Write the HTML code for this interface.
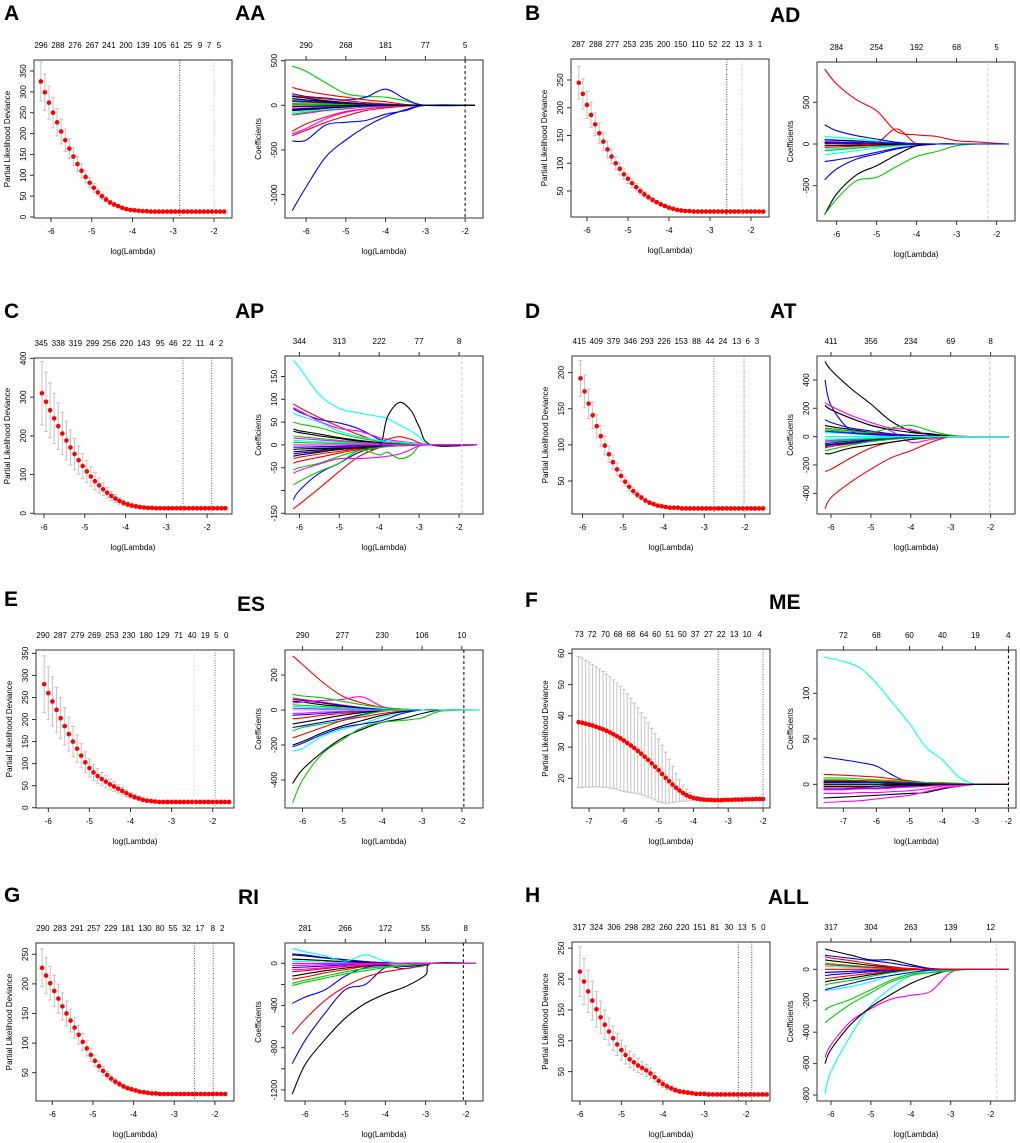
<!DOCTYPE html>
<html><head><meta charset="utf-8"><style>
html,body{margin:0;padding:0;background:#fff;}
svg{display:block;font-family:"Liberation Sans",Arial,sans-serif;}
</style></head><body>
<svg id="fig" width="1020" height="1143" viewBox="0 0 1020 1143" xmlns="http://www.w3.org/2000/svg">
<rect x="0" y="0" width="1020" height="1143" fill="#fff"/>
</svg>
<script>
// ---------- CV curve data (mean partial likelihood deviance, step 0.1 in log(lambda)) ----------
const A_mean=[325,299,274,250,227,205,184,164,145,127,111,96,82,70,59,50,42,35,30,26,22,19,17,16,15,14,14,13,13,13,13,13,13,13,13,13,13,13,13,13,13,13,13,13,13,13];
const B_mean=[245,225,205,187,170,154,139,125,112,100,90,80,72,64,57,50,44,39,34,30,26,23,20,18,16,15,14,14,13,13,13,13,13,13,13,13,13,13,13,13,13,13,13,13,13,13];
const C_mean=[310,288,266,245,225,206,188,170,153,137,122,108,95,83,72,62,53,45,38,32,27,23,20,18,16,15,14,14,13,13,13,13,13,13,13,13,13,13,13,13,13,13,13,13,13,13];
const D_mean=[192,174,157,141,126,112,99,87,76,66,57,49,42,36,31,27,23,20,18,16,15,14,13,13,13,12,12,12,12,12,12,12,12,12,12,12,12,12,12,12,12,12,12,12,12,12];
const E_mean=[280,260,241,222,203,185,167,150,134,118,103,90,80,72,65,59,53,48,43,38,33,28,24,21,18,16,15,14,13,13,13,13,13,13,13,13,13,13,13,13,13,13,13,13,13,13];
const F_mean=[38.0,37.8,37.5,37.2,36.9,36.5,36.1,35.7,35.2,34.7,34.1,33.5,32.8,32.1,31.3,30.5,29.7,28.8,27.9,26.9,25.9,24.8,23.7,22.6,21.4,20.2,19.1,18.0,17.0,16.1,15.3,14.6,14.1,13.7,13.5,13.3,13.2,13.1,13.1,13.0,13.0,13.0,13.1,13.1,13.1,13.2,13.2,13.2,13.3,13.3,13.3,13.4,13.4,13.4];
const F_se=[21,20.7,20.3,20,19.6,19.2,18.9,18.5,18.1,17.8,17.4,17.0,16.7,16.3,15.7,15.1,14.4,13.8,13.1,12.5,11.9,11.2,10.6,10.0,9.2,8.2,7.0,5.8,4.6,3.5,2.6,1.9,1.3,0.9,0.7,0.6,0.5,0.4,0.4,0.4,0.4,0.4,0.4,0.4,0.4,0.4,0.4,0.4,0.4,0.4,0.4,0.4,0.4,0.4];
const G_mean=[227,214,201,188,175,162,150,138,126,114,102,91,80,70,61,53,46,40,35,31,27,24,22,20,18,17,16,15,15,14,14,14,14,14,14,14,14,14,14,14,14,14,14,14,14,14];
const H_mean=[212,196,180,165,151,138,126,115,104,94,85,77,70,65,60,56,52,47,41,35,30,26,23,20,18,17,16,15,14,14,14,13,13,13,13,13,13,13,13,13,13,13,13,13,13,13];
// top axis labels (number of nonzero coefficients) and their log(lambda) positions
const A_top=["296","288","276","267","241","200","139","105","61","25","9","7","5"];
const A_topAt=[-6.245,-5.83,-5.41,-4.99,-4.58,-4.16,-3.74,-3.33,-2.96,-2.64,-2.34,-2.12,-1.88];
const B_top=["287","288","277","253","235","200","150","110","52","22","13","3","1"];
const B_topAt=[-6.21,-5.79,-5.38,-4.96,-4.55,-4.13,-3.72,-3.30,-2.93,-2.61,-2.28,-2.01,-1.78];
const C_top=["345","338","319","299","256","220","143","95","46","22","11","4","2"];
const C_topAt=[-6.07,-5.65,-5.23,-4.81,-4.40,-3.98,-3.56,-3.15,-2.83,-2.50,-2.17,-1.89,-1.66];
const D_top=["415","409","379","346","293","226","153","88","44","24","13","6","3"];
const D_topAt=[-6.08,-5.66,-5.24,-4.82,-4.41,-3.99,-3.57,-3.19,-2.86,-2.54,-2.20,-1.93,-1.70];
const E_top=["290","287","279","269","253","230","180","129","71","40","19","5","0"];
const E_topAt=[-6.13,-5.71,-5.29,-4.88,-4.45,-4.04,-3.62,-3.21,-2.83,-2.50,-2.18,-1.91,-1.67];
const F_top=["73","72","70","68","68","64","60","51","50","37","27","22","13","10","4"];
const F_topAt=[-7.28,-6.91,-6.53,-6.17,-5.80,-5.42,-5.06,-4.68,-4.32,-3.95,-3.57,-3.20,-2.83,-2.46,-2.09];
const G_top=["290","283","291","257","229","181","130","80","55","32","17","8","2"];
const G_topAt=[-6.23,-5.81,-5.39,-4.98,-4.56,-4.14,-3.72,-3.35,-3.03,-2.70,-2.37,-2.05,-1.82];
const H_top=["317","324","306","298","282","260","220","151","81","30","13","5","0"];
const H_topAt=[-6.01,-5.60,-5.18,-4.76,-4.35,-3.93,-3.52,-3.11,-2.75,-2.41,-2.09,-1.81,-1.58];

// ---------- coefficient path data ----------
const AA_grid=[-6.35,-6,-5.5,-5,-4.5,-4,-3.5,-3,-1.75];
const AA_top=["290","268","181","77","5"];
const AA_lines=[
 ["#0000ff",-1180,-915,-575,-389,-240,-128,-50,0],
 ["#00cd00",440,380,250,130,100,90,50,0],
 ["#0000ff",130,100,80,60,90,180,70,0],
 ["#0000ff",-400,-390,-220,-190,-170,-100,-60,0],
 ["#ff0000",200,160,120,90,60,40,10,0],
 ["#ff0000",-290,-210,-130,-70,-40,-20,-5,0],
 ["#ff00ff",-320,-260,-150,-80,-40,-20,-5,0],
 ["#ff0000",-340,-280,-190,-120,-60,-30,-10,0],
 ["#ff0000",110,90,70,50,30,15,5,0],
 ["#ff00ff",-110,-90,-60,-40,-20,-10,-3,0],
 ["#0000ff",60,55,50,30,15,8,3,0],
 ["#000000",100,80,50,30,15,5],["#00cd00",-100,-80,-50,-30,-15,-5],["#00ffff",60,50,35,20,10,3],
 ["#000000",-60,-50,-35,-20,-10,-3],["#ff0000",40,35,25,15,8,2],["#0000ff",-40,-35,-25,-15,-8,-2],
 ["#00cd00",20,18,12,8,4,1],["#ff00ff",-20,-18,-12,-8,-4,-1],["#000000",75,60,40,25,10,3],
 ["#00ffff",-80,-65,-45,-25,-12,-4],["#00cd00",10,9,6,4,2],["#000000",-10,-9,-6,-4,-2],
 ["#0000ff",50,45,30,18,9,2],["#000000",-50,-45,-30,-18,-9,-2]
];
const AD_grid=[-6.3,-6,-5.5,-5,-4.5,-4,-3.5,-3,-2.5,-1.7];
const AD_top=["284","254","192","68","5"];
const AD_lines=[
 ["#00ffff",90,80,60,40,20,5],["#00ffff",-130,-110,-80,-50,-25,-5],["#00ffff",60,50,40,25,12,3],
 ["#00ffff",-60,-55,-40,-30,-15,-3],["#000000",50,45,35,20,10,2],["#00cd00",-80,-70,-50,-30,-15,-4],
 ["#ff00ff",30,28,20,12,6,1],["#ff0000",-40,-35,-25,-15,-8,-2],["#0000ff",20,18,14,8,4,1],
 ["#000000",-20,-18,-14,-8,-4,-1],["#ff0000",900,720,530,400,150,110,90,40,25,0],
 ["#ff0000",0,0,0,10,180,0],["#0000ff",230,160,100,60,20,0],["#0000ff",-430,-300,-180,-120,-60,-20],
 ["#0000ff",-210,-190,-150,-100,-50,-20],["#000000",-850,-600,-370,-260,-130,-20],
 ["#00cd00",-850,-660,-440,-400,-270,-150,-90,-20],["#0000ff",10,8,6,4,2,1,0,0,0,0]
];
const AP_grid=[-6.15,-6,-5.5,-5,-4.5,-4,-3.8,-3.5,-3.2,-3,-2.7,-1.55];
const AP_top=["344","313","222","77","8"];
const AP_lines=[
 ["#000000",30,27,20,14,8,4,3,2,1],["#ff0000",-30,-27,-20,-14,-8,-4,-3,-2,-1],["#00cd00",20,18,14,10,6,3,2,1],
 ["#0000ff",-20,-18,-14,-10,-6,-3,-2,-1],["#00ffff",10,9,7,5,3,2,1,1],["#ff00ff",-10,-9,-7,-5,-3,-2,-1,-1],
 ["#000000",35,31,24,16,10,5,3,2,1],["#ff0000",-40,-36,-27,-18,-10,-5,-3,-2,-1],["#00cd00",5,5,4,3,2,1,1],
 ["#0000ff",-5,-5,-4,-3,-2,-1,-1],["#ff00ff",15,14,11,8,5,3,2,1],["#000000",-15,-14,-11,-8,-5,-3,-2,-1],
 ["#000000",-25,-22,-16,-10,-6,-3,-2,-1],
 ["#00ffff",185,170,110,80,70,62,58,44,30,18,0,0],
 ["#000000",-10,-9,-8,-7,-6,-4,60,93,75,40,0,0],
 ["#ff0000",90,82,60,40,22,8,12,18,12,5,0,0],
 ["#0000ff",80,72,56,48,35,12,8,5,3,2,0,0],
 ["#ff00ff",82,75,52,36,30,16,12,8,5,3,0,0],
 ["#ff0000",-140,-130,-95,-58,-25,-6,-3,-1,0,0,0,0],
 ["#0000ff",-120,-100,-62,-40,-16,-4,-2,-1,0,0,0,0],
 ["#00cd00",-88,-80,-58,-40,-12,-22,-16,-30,-22,-3,0,0],
 ["#00cd00",-55,-50,-40,-25,-12,-6,-4,-2,-1,0,0,0],
 ["#ff00ff",-62,-56,-42,-30,-30,-27,-25,-20,-10,-2,0,0],
 ["#00cd00",50,46,38,25,15,8,6,4,2,1,0,0],
 ["#00ffff",70,64,50,30,18,10,8,6,4,2,0,0],
 ["#ff00ff",0,0,0,0,0,0,0,0,0,0,0,0]
];
const AT_grid=[-6.15,-6,-5.5,-5,-4.5,-4,-3.5,-3,-2.5,-1.55];
const AT_top=["411","356","234","69","8"];
const AT_lines=[
 ["#000000",80,70,50,30,15,5],["#ff0000",-80,-70,-50,-30,-15,-5],["#00cd00",50,45,30,20,10,3],
 ["#0000ff",-50,-45,-30,-20,-10,-3],["#00ffff",30,27,20,12,6,2],["#ff00ff",-30,-27,-20,-12,-6,-2],
 ["#000000",-60,-55,-40,-25,-12,-4],["#00cd00",-40,-35,-25,-15,-8,-2],["#0000ff",40,35,25,15,8,2],
 ["#ff0000",60,55,40,28,14,4],["#00ffff",-20,-18,-14,-8,-4,-1],["#0000ff",-70,-60,-45,-28,-14,-4],
 ["#000000",530,470,340,230,110,40,20,5,0,0],
 ["#0000ff",400,220,40,20,10,5,0,0,0,0],
 ["#ff00ff",240,215,150,100,60,50,10,0,0,0],
 ["#ff00ff",220,190,130,80,40,-40,-20,0,0,0],
 ["#000000",220,190,130,80,50,30,15,5,0,0],
 ["#0000ff",120,100,60,40,20,10,5,0,0,0],
 ["#00cd00",60,55,40,30,60,80,40,10,0,0],
 ["#ff0000",-510,-430,-320,-230,-150,-100,-40,0,0,0],
 ["#ff0000",-245,-230,-150,-80,-40,-20,-10,0,0,0],
 ["#000000",-120,-118,-80,-60,-40,-20,-5,0,0,0],
 ["#00cd00",-100,-90,-60,-35,-20,-10,-5,0,0,0],
 ["#00ffff",0,0,0,0,0,0,0,0,0,0]
];
const ES_grid=[-6.25,-6,-5.5,-5,-4.5,-4,-3.5,-3,-2.5,-1.55];
const ES_top=["290","277","230","106","10"];
const ES_lines=[
 ["#000000",50,45,30,20,10,3],["#ff0000",-50,-45,-30,-20,-10,-3],["#00cd00",30,27,20,12,6,2],
 ["#0000ff",-30,-27,-20,-12,-6,-2],["#00ffff",20,18,12,8,4,1],["#ff00ff",-20,-18,-12,-8,-4,-1],
 ["#000000",-80,-70,-50,-30,-15,-4],["#ff0000",70,60,45,28,14,4],["#0000ff",-100,-90,-70,-50,-25,-6],
 ["#00cd00",-120,-100,-80,-60,-30,-8],["#ff00ff",10,9,6,4,2],["#0000ff",60,55,40,25,12,3],
 ["#ff0000",310,260,160,80,40,15,5,0,0,0],
 ["#ff00ff",40,45,55,60,75,20,5,0,0,0],
 ["#00cd00",90,80,70,50,30,15,5,0,0,0],
 ["#000000",-420,-340,-240,-160,-110,-70,-50,-20,0,0],
 ["#00cd00",-530,-400,-250,-170,-100,-70,-60,-45,-5,0],
 ["#00ffff",-235,-220,-150,-110,-80,-40,-20,0,0,0],
 ["#0000ff",-210,-190,-140,-100,-80,-60,-20,0,0,0],
 ["#ff0000",-160,-140,-100,-60,-40,-20,-5,0,0,0],
 ["#000000",-200,-180,-130,-90,-60,-30,-10,0,0,0],
 ["#00ffff",0,0,0,0,0,0,0,0,0,0]
];
const ME_grid=[-7.6,-7,-6.5,-6,-5.5,-5,-4.5,-4,-3.5,-3,-2.5,-2];
const ME_top=["72","68","60","40","19","4"];
const ME_lines=[
 ["#000000",3,3,3,2,2,2,1,1],["#ff0000",-3,-3,-3,-2,-2,-2,-1,-1],["#00cd00",5,5,4,4,3,2,1,1],
 ["#0000ff",-5,-5,-4,-4,-3,-2,-1,-1],["#00ffff",1,1,1,1,1,1],["#ff00ff",-6,-6,-5,-5,-4,-3,-2,-1],
 ["#000000",-2,-2,-2,-2,-1,-1,-1],["#ff0000",4,4,4,3,3,2,1],["#0000ff",2,2,2,2,1,1,1],
 ["#00ffff",140,135,128,111,89,67,41,27,8,0,0,0],
 ["#0000ff",30,27,24,20,10,2,1,0,0,0,0,0],
 ["#ff0000",11,10,9,8,6,4,2,1,0,0,0,0],
 ["#00cd00",7,7,6,5,4,3,2,2,1,0,0,0],
 ["#000000",-15,-14,-13,-12,-11,-10,-9,-5,-2,0,0,0],
 ["#ff00ff",-20,-19,-18,-16,-14,-12,-8,-4,-2,0,0,0],
 ["#ff00ff",-10,-10,-9,-9,-8,-7,-5,-2,-1,0,0,0],
 ["#000000",0,0,0,0,0,0,0,0,0,0,0,0]
];
const RI_grid=[-6.32,-6,-5.5,-5,-4.5,-4,-3.5,-3,-2.85,-1.75];
const RI_top=["281","266","172","55","8"];
const RI_lines=[
 ["#000000",80,70,50,30,15,5],["#ff0000",-80,-70,-50,-30,-15,-5],["#00cd00",40,35,25,15,8,2],
 ["#0000ff",-40,-35,-25,-15,-8,-2],["#00ffff",20,18,12,8,4,1],["#ff00ff",-20,-18,-12,-8,-4,-1],
 ["#000000",-120,-100,-70,-45,-25,-8],["#ff00ff",-60,-55,-40,-25,-12,-4],["#0000ff",90,80,55,35,18,5],
 ["#ff0000",-150,-130,-90,-60,-30,-10],["#000000",40,36,26,16,8,2],
 ["#000000",-1240,-960,-720,-520,-380,-290,-220,-110,0,0],
 ["#0000ff",-950,-730,-470,-250,-200,-40,-50,-10,0,0],
 ["#ff0000",-670,-530,-350,-220,-130,-80,-50,-20,0,0],
 ["#0000ff",-380,-320,-250,-120,-40,-20,-30,-10,0,0],
 ["#00ffff",140,110,70,20,80,20,0,0,0,0],
 ["#00cd00",-210,-180,-140,-100,-70,-40,-20,-5,0,0],
 ["#00cd00",-190,-160,-120,-80,-50,-30,-15,-5,0,0],
 ["#ff00ff",0,0,0,0,0,0,0,0,0,0]
];
const ALL_grid=[-6.15,-6,-5.5,-5,-4.5,-4,-3.5,-3,-2.5,-1.55];
const ALL_top=["317","304","263","139","12"];
const ALL_lines=[
 ["#000000",60,55,40,25,12,4],["#ff0000",-60,-55,-40,-25,-12,-4],["#00cd00",40,35,25,15,8,2],
 ["#0000ff",-40,-35,-25,-15,-8,-2],["#00ffff",20,18,12,8,4,1],["#ff00ff",-20,-18,-12,-8,-4,-1],
 ["#ff0000",80,72,55,35,18,5],["#000000",-80,-72,-55,-35,-18,-5],["#00cd00",-100,-90,-70,-45,-22,-6],
 ["#ff0000",30,28,20,12,6,2],["#0000ff",-20,-18,-14,-8,-4,-1],
 ["#00ffff",-790,-650,-420,-230,-120,-40,-20,-5,0,0],
 ["#ff00ff",-560,-480,-330,-250,-190,-165,-140,-20,0,0],
 ["#000000",-600,-510,-350,-240,-160,-90,-40,-5,0,0],
 ["#00cd00",-340,-310,-220,-150,-80,-40,-20,-5,0,0],
 ["#00cd00",-260,-235,-190,-130,-70,-30,-20,-10,0,0],
 ["#000000",130,120,90,60,60,30,5,0,0,0],
 ["#0000ff",90,85,70,55,40,20,5,0,0,0],
 ["#00ffff",-135,-130,-110,-80,-40,-20,-10,0,0,0],
 ["#0000ff",-130,-120,-90,-60,-40,-20,-5,0,0,0],
 ["#ff0000",0,0,0,0,0,0,0,0,0,0]
];
</script>
<script>
const NS="http://www.w3.org/2000/svg";
const svg=document.getElementById('fig');
const FS=8;
function mk(tag,attrs,parent){const e=document.createElementNS(NS,tag);for(const k in attrs)e.setAttribute(k,attrs[k]);(parent||svg).appendChild(e);return e;}
function txt(s,x,y,size,parent,anchor,rot,weight){const t=mk('text',{x:x,y:y,'font-size':size,'text-anchor':anchor||'middle',fill:'#000'},parent);if(weight)t.setAttribute('font-weight',weight);if(rot)t.setAttribute('transform','rotate(-90 '+x+' '+y+')');t.textContent=s;return t;}
function smooth(pts){let d='M'+pts[0][0].toFixed(1)+','+pts[0][1].toFixed(1);for(let i=0;i<pts.length-1;i++){const p0=pts[i-1]||pts[i],p1=pts[i],p2=pts[i+1],p3=pts[i+2]||p2;const c1=[p1[0]+(p2[0]-p0[0])/6,p1[1]+(p2[1]-p0[1])/6],c2=[p2[0]-(p3[0]-p1[0])/6,p2[1]-(p3[1]-p1[1])/6];d+=' C'+c1[0].toFixed(1)+','+c1[1].toFixed(1)+' '+c2[0].toFixed(1)+','+c2[1].toFixed(1)+' '+p2[0].toFixed(1)+','+p2[1].toFixed(1);}return d;}

function axes(g,P,sx,sy,isCoef,ylab){
  const [x0,y0,x1,y1]=P.box;
  const fr=mk('rect',{x:x0,y:y0,width:x1-x0,height:y1-y0,fill:'none',stroke:'#333','stroke-width':1},g);
  
  const xa=mk('g',{},g);
  mk('line',{x1:sx(P.xticks[0]),x2:sx(P.xticks[P.xticks.length-1]),y1:y1,y2:y1,stroke:'#333'},xa);
  P.xticks.forEach(v=>{mk('line',{x1:sx(v),x2:sx(v),y1:y1,y2:y1+4,stroke:'#333'},xa);txt(String(v),sx(v),y1+16,FS,xa);});
  const xt=txt('log(Lambda)',(x0+x1)/2,y1+36,FS,g);
  const ya=mk('g',{},g);
  mk('line',{x1:x0,x2:x0,y1:sy(P.yticks[0]),y2:sy(P.yticks[P.yticks.length-1]),stroke:'#333'},ya);
  P.yticks.forEach((v,i)=>{mk('line',{x1:x0-4,x2:x0,y1:sy(v),y2:sy(v),stroke:'#333'},ya);const lab=P.ylabels?P.ylabels[i]:String(v);if(lab)txt(lab,x0-8,sy(v),FS,ya,'middle',true);});
  const yt=txt(ylab,x0-24,(y0+y1)/2,FS,g,'middle',true);
  const ta=mk('g',{},g);
  P.topAt.forEach((v,i)=>{if(isCoef){mk('line',{x1:sx(v),x2:sx(v),y1:y0,y2:y0-4,stroke:'#333'},ta);}txt(P.top[i],sx(v),y0-12,FS,ta);});
  if(isCoef) mk('line',{x1:sx(P.topAt[0]),x2:sx(P.topAt[P.topAt.length-1]),y1:y0,y2:y0,stroke:'#333'},ta);
}
function scales(P){const [x0,y0,x1,y1]=P.box;return [v=>x0+(v-P.xlim[0])/(P.xlim[1]-P.xlim[0])*(x1-x0), v=>y1-(v-P.ylim[0])/(P.ylim[1]-P.ylim[0])*(y1-y0)];}
function letter(s,x,y,name){const t=txt(s,x,y,21,svg,'start',false,'bold');}

function drawCV(P){
  const g=mk('g',{});
  const [sx,sy]=scales(P);
  axes(g,P,sx,sy,false,'Partial Likelihood Deviance');
  const eb=mk('g',{stroke:'#c4c4c4','stroke-width':1},g);
  const dots=mk('g',{fill:'#ff0000'},g);
  P.mean.forEach((m,i)=>{const lam=P.lamStart+i*P.step;const se=P.se?P.se[i]:m*P.seFrac;const x=sx(lam);
    mk('line',{x1:x,x2:x,y1:sy(m-se),y2:sy(m+se)},eb);mk('line',{x1:x-2,x2:x+2,y1:sy(m-se),y2:sy(m-se)},eb);mk('line',{x1:x-2,x2:x+2,y1:sy(m+se),y2:sy(m+se)},eb);});
  P.mean.forEach((m,i)=>{const lam=P.lamStart+i*P.step;const c=mk('circle',{cx:sx(lam),cy:sy(m),r:2.3},dots);});
  P.vlines.forEach((v,i)=>{const l=mk('line',{x1:sx(v),x2:sx(v),y1:P.box[1],y2:P.box[3],stroke:P.vcol[i],'stroke-dasharray':'1,1.5','stroke-width':1},g);});
}
function drawCoef(P){
  const g=mk('g',{});
  const [sx,sy]=scales(P);
  axes(g,P,sx,sy,true,'Coefficients');
  const lg=mk('g',{fill:'none','stroke-width':1.1},g);
  P.lines.forEach(L=>{const col=L[0];const pts=P.grid.map((x,i)=>[sx(x),sy(i+1<L.length?L[i+1]:0)]);
    const p=mk('path',{d:smooth(pts),stroke:col},lg);});
  const l=mk('line',{x1:sx(P.vline),x2:sx(P.vline),y1:P.box[1],y2:P.box[3],stroke:P.vcol,'stroke-dasharray':'3,2.5','stroke-width':1},g);
  
}
const X6=[-6,-5,-4,-3,-2], X7=[-7,-6,-5,-4,-3,-2];
drawCV({name:'panel-a-cv',box:[34,60,232,218],xlim:[-6.417,-1.558],ylim:[-2.4,376.4],xticks:X6,yticks:[0,50,100,150,200,250,300,350],top:A_top,topAt:A_topAt,lamStart:-6.25,step:0.1,mean:A_mean,seFrac:0.145,vlines:[-2.84,-2.0],vcol:['#444','#bbb']});
drawCV({name:'panel-b-cv',box:[571,59,769,217],xlim:[-6.39,-1.56],ylim:[3.2,287.8],xticks:X6,yticks:[50,100,150,200,250],top:B_top,topAt:B_topAt,lamStart:-6.2,step:0.1,mean:B_mean,seFrac:0.12,vlines:[-2.59,-2.22],vcol:['#444','#bbb']});
drawCV({name:'panel-c-cv',box:[34,358,232,514],xlim:[-6.245,-1.39],ylim:[-1.8,401],xticks:X6,yticks:[0,100,200,300,400],top:C_top,topAt:C_topAt,lamStart:-6.05,step:0.1,mean:C_mean,seFrac:0.265,vlines:[-2.59,-1.89],vcol:['#666','#666']});
drawCV({name:'panel-d-cv',box:[572,356,770,514],xlim:[-6.26,-1.38],ylim:[4.3,223],xticks:X6,yticks:[50,100,150,200],top:D_top,topAt:D_topAt,lamStart:-6.05,step:0.1,mean:D_mean,seFrac:0.13,vlines:[-2.76,-2.02],vcol:['#777','#777']});
drawCV({name:'panel-e-cv',box:[36,650,234,808],xlim:[-6.3,-1.48],ylim:[-0.7,357.7],xticks:X6,yticks:[0,50,100,150,200,250,300,350],top:E_top,topAt:E_topAt,lamStart:-6.1,step:0.1,mean:E_mean,seFrac:0.23,vlines:[-2.45,-1.94],vcol:['#ccc','#777']});
drawCV({name:'panel-f-cv',box:[572,649,770,808],xlim:[-7.49,-1.8],ylim:[10.5,61.4],xticks:X7,yticks:[20,30,40,50,60],top:F_top,topAt:F_topAt,lamStart:-7.3,step:0.1,mean:F_mean,se:F_se,vlines:[-3.29,-2.0],vcol:['#666','#666']});
drawCV({name:'panel-g-cv',box:[36,943,234,1101],xlim:[-6.4,-1.53],ylim:[2.2,269],xticks:X6,yticks:[50,100,150,200,250],top:G_top,topAt:G_topAt,lamStart:-6.25,step:0.1,mean:G_mean,seFrac:0.14,vlines:[-2.5,-2.04],vcol:['#555','#555']});
drawCV({name:'panel-h-cv',box:[572,942,770,1101],xlim:[-6.19,-1.42],ylim:[2.4,260],xticks:X6,yticks:[50,100,150,200,250],top:H_top,topAt:H_topAt,lamStart:-6.0,step:0.1,mean:H_mean,seFrac:0.19,vlines:[-2.18,-1.86],vcol:['#555','#555']});
drawCoef({name:'panel-aa-coef',box:[285,60,483,218],xlim:[-6.53,-1.55],ylim:[-1262,507],xticks:X6,yticks:[500,0,-500,-1000],top:AA_top,topAt:X6,grid:AA_grid,lines:AA_lines,vline:-2,vcol:'#000'});
drawCoef({name:'panel-ad-coef',box:[817,62,1015,221],xlim:[-6.49,-1.54],ylim:[-924,984],xticks:X6,yticks:[500,0,-500],top:AD_top,topAt:X6,grid:AD_grid,lines:AD_lines,vline:-2.22,vcol:'#ccc'});
drawCoef({name:'panel-ap-coef',box:[285,356,483,514],xlim:[-6.36,-1.4],ylim:[-151.5,195],xticks:X6,yticks:[150,100,50,0,-50,-100,-150],ylabels:['150','100','50','0','-50','','-150'],top:AP_top,topAt:X6,grid:AP_grid,lines:AP_lines,vline:-1.93,vcol:'#ccc'});
drawCoef({name:'panel-at-coef',box:[817,356,1015,514],xlim:[-6.35,-1.39],ylim:[-546,569],xticks:X6,yticks:[400,200,0,-200,-400],top:AT_top,topAt:X6,grid:AT_grid,lines:AT_lines,vline:-2.02,vcol:'#bbb'});
drawCoef({name:'panel-es-coef',box:[285,650,483,808],xlim:[-6.44,-1.47],ylim:[-560,343],xticks:X6,yticks:[200,0,-200,-400],top:ES_top,topAt:X6,grid:ES_grid,lines:ES_lines,vline:-1.95,vcol:'#000'});
drawCoef({name:'panel-me-coef',box:[817,650,1016,808],xlim:[-7.8,-1.77],ylim:[-26,147.6],xticks:X7,yticks:[100,50,0],top:ME_top,topAt:X7,grid:ME_grid,lines:ME_lines,vline:-2,vcol:'#000'});
drawCoef({name:'panel-ri-coef',box:[285,943,483,1101],xlim:[-6.5,-1.57],ylim:[-1305,193],xticks:X6,yticks:[0,-200,-400,-600,-800,-1000,-1200],ylabels:['0','','-400','','-800','','-1200'],top:RI_top,topAt:X6,grid:RI_grid,lines:RI_lines,vline:-2.06,vcol:'#000'});
drawCoef({name:'panel-all-coef',box:[817,942,1015,1101],xlim:[-6.35,-1.39],ylim:[-838,174],xticks:X6,yticks:[0,-200,-400,-600,-800],top:ALL_top,topAt:X6,grid:ALL_grid,lines:ALL_lines,vline:-1.85,vcol:'#ccc'});
letter('A',4,20,'panel-label-a');letter('AA',235,20,'panel-label-aa');letter('B',525,20,'panel-label-b');letter('AD',770,22,'panel-label-ad');
letter('C',4,318,'panel-label-c');letter('AP',235,318,'panel-label-ap');letter('D',525,318,'panel-label-d');letter('AT',770,318,'panel-label-at');
letter('E',4,606,'panel-label-e');letter('ES',237,611,'panel-label-es');letter('F',525,607,'panel-label-f');letter('ME',769,609,'panel-label-me');
letter('G',4,902,'panel-label-g');letter('RI',238,904,'panel-label-ri');letter('H',525,902,'panel-label-h');letter('ALL',768,904,'panel-label-all');
</script>
</body></html>
